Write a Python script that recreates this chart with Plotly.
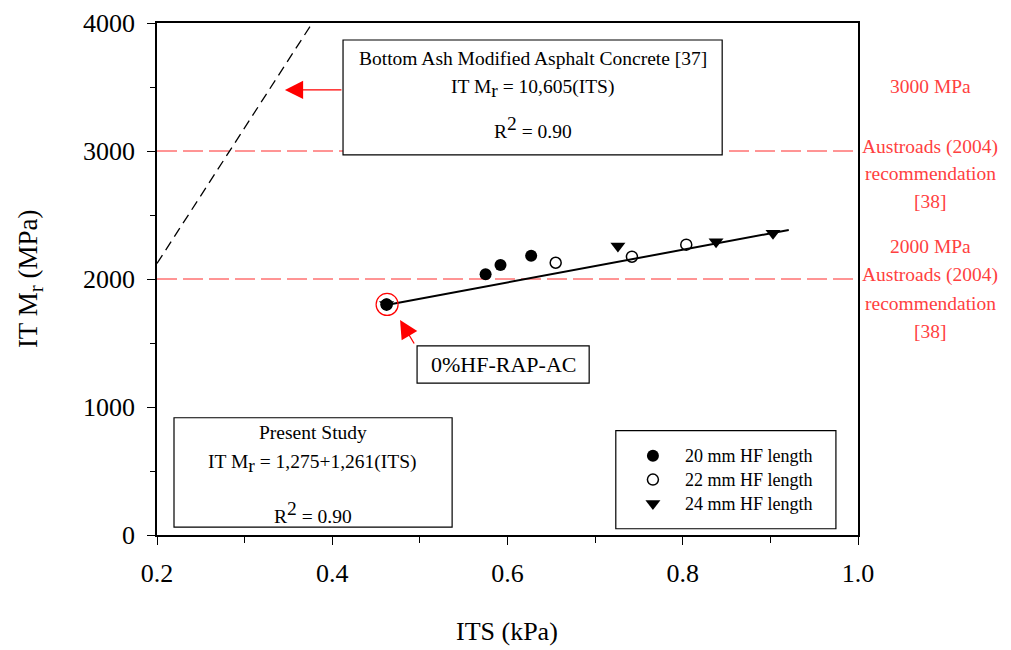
import plotly.graph_objects as go

# --- data ---
HF20_ITS = [0.462, 0.575, 0.592, 0.627]
HF20_MR = [1800, 2037, 2109, 2182]
HF22_ITS = [0.462, 0.655, 0.742, 0.804]
HF22_MR = [1800, 2127, 2174, 2268]
HF24_ITS = [0.462, 0.726, 0.838, 0.903]
HF24_MR = [1800, 2258, 2291, 2357]

FIT_ITS = [0.468, 0.921]          # present study regression line
FIT_MR = [1805, 2383]
BA_ITS = [0.2, 0.3772]            # bottom ash line, 10,605(ITS)
BA_MR = [2121, 4000]
REC_LEVELS = [3000, 2000]         # Austroads recommendations
X_RANGE = [0.2, 1.0]

SERIF = "Liberation Serif, Times New Roman, serif"
REC_RED = "#ff4040"


def big(txt, size):
    # sub/superscripts in the original are nearly full size
    return f"<span style='font-size:{size}px'>{txt}</span>"


fig = go.Figure()

for lvl in REC_LEVELS:
    fig.add_trace(go.Scatter(x=X_RANGE, y=[lvl, lvl], mode="lines",
                             line=dict(color="#ff2a2a", width=1, dash="20px,6px"),
                             showlegend=False, hoverinfo="skip"))

fig.add_trace(go.Scatter(x=BA_ITS, y=BA_MR, mode="lines",
                         line=dict(color="black", width=1.3, dash="10px,6px"),
                         showlegend=False, hoverinfo="skip"))
fig.add_trace(go.Scatter(x=FIT_ITS, y=FIT_MR, mode="lines",
                         line=dict(color="black", width=2),
                         showlegend=False, hoverinfo="skip"))

leg_size = 18
fig.add_trace(go.Scatter(x=HF20_ITS, y=HF20_MR, mode="markers",
                         name=big("20 mm HF length", leg_size),
                         marker=dict(symbol="circle", size=12, color="black")))
fig.add_trace(go.Scatter(x=HF22_ITS, y=HF22_MR, mode="markers",
                         name=big("22 mm HF length", leg_size),
                         marker=dict(symbol="circle-open", size=11, color="black",
                                     line=dict(width=1.5))))
fig.add_trace(go.Scatter(x=HF24_ITS, y=HF24_MR, mode="markers",
                         name=big("24 mm HF length", leg_size),
                         marker=dict(symbol="triangle-down", size=13, color="black")))

shapes = [
    # bottom ash box
    dict(type="rect", x0=0.4123, x1=0.845, y0=2969, y1=3867, layer="above",
         line=dict(color="black", width=1.2), fillcolor="white"),
    # present study box
    dict(type="rect", x0=0.2194, x1=0.5368, y0=62, y1=916, layer="above",
         line=dict(color="black", width=1.2), fillcolor="white"),
    # 0% label box
    dict(type="rect", x0=0.4968, x1=0.6932, y0=1187, y1=1477, layer="above",
         line=dict(color="black", width=1.2), fillcolor="white"),
    # legend box
    dict(type="rect", x0=0.7236, x1=0.9748, y0=49, y1=815, layer="above",
         line=dict(color="black", width=1.2), fillcolor="rgba(0,0,0,0)"),
    # red circle round the control mix
    dict(type="circle", xsizemode="pixel", ysizemode="pixel",
         xanchor=0.4626, yanchor=1801, x0=-11, x1=11, y0=-11, y1=11,
         line=dict(color="red", width=1.2), layer="above"),
]

ann = []
bs = 19.5
box_font = dict(family=SERIF, size=bs, color="black")
ann += [
    dict(x=0.6286, y=3720, text="Bottom Ash Modified Asphalt Concrete [37]", font=box_font),
    dict(x=0.6286, y=3490, text="IT M<sub>" + big("r", bs) + "</sub> = 10,605(ITS)", font=box_font),
    dict(x=0.6286, y=3180, text="R<sup>" + big("2", bs) + "</sup> = 0.90", font=box_font),
    dict(x=0.378, y=800, text="Present Study", font=box_font),
    dict(x=0.378, y=560, text="IT M<sub>" + big("r", bs) + "</sub> = 1,275+1,261(ITS)", font=box_font),
    dict(x=0.378, y=175, text="R<sup>" + big("2", bs) + "</sup> = 0.90", font=box_font),
    dict(x=0.595, y=1330, text="0%HF-RAP-AC", font=dict(family=SERIF, size=22, color="black")),
]
for a in ann:
    a.update(xref="x", yref="y", showarrow=False)

# red arrows
ann += [
    dict(x=0.346, y=3477, xref="x", yref="y", ax=58, ay=0, text="", showarrow=True,
         arrowhead=2, arrowsize=2.8, arrowwidth=1.3, arrowcolor="red"),
    dict(x=0.4774, y=1680, xref="x", yref="y", ax=15, ay=25, text="", showarrow=True,
         arrowhead=2, arrowsize=2.8, arrowwidth=1.3, arrowcolor="red"),
]

# Austroads notes to the right of the plot
red_font = dict(family=SERIF, size=19.5, color=REC_RED)
for txt, ypix in [("3000 MPa", 86), ("Austroads (2004)", 147), ("recommendation", 173), ("[38]", 201),
                  ("2000 MPa", 246), ("Austroads (2004)", 275), ("recommendation", 303), ("[38]", 331)]:
    ann.append(dict(x=(930 - 157) / 701, y=(535 - ypix) / 512, xref="paper", yref="paper",
                    xanchor="center", yanchor="middle",
                    text=txt, showarrow=False, font=red_font))

# axis titles
ann += [
    dict(x=-0.181, y=0.5, xref="paper", yref="paper",
         text="IT M<sub>" + big("r", 21) + "</sub> (MPa)", xanchor="center", yanchor="middle",
         textangle=-90, showarrow=False, font=dict(family=SERIF, size=27, color="black")),
    dict(x=0.4993, y=-0.189, xref="paper", yref="paper", text="ITS (kPa)",
         xanchor="center", yanchor="middle",
         showarrow=False, font=dict(family=SERIF, size=26, color="black")),
]

# the page body adds an 8px offset, so the figure is drawn 8px smaller
fig.update_layout(
    width=1003, height=642,
    margin=dict(l=149, r=153, t=15, b=115, autoexpand=False),
    paper_bgcolor="white", plot_bgcolor="white",
    font=dict(family=SERIF, size=24, color="black"),
    shapes=shapes, annotations=ann,
    showlegend=True,
    legend=dict(x=0.6618, y=0.1877, xanchor="left", yanchor="top",
                bgcolor="rgba(0,0,0,0)", borderwidth=0, itemwidth=54,
                font=dict(family=SERIF, size=16, color="black")),
)
fig.update_xaxes(range=X_RANGE, dtick=0.2, tick0=0.2, tickformat=".1f", automargin=False,
                 showline=True, linecolor="black", linewidth=1.5, mirror=True,
                 ticks="outside", ticklen=8, tickwidth=1.2, tickcolor="black", ticklabelstandoff=6,
                 minor=dict(dtick=0.1, ticks="outside", ticklen=6, tickcolor="black"),
                 showgrid=False, zeroline=False, tickfont=dict(size=26))
fig.update_yaxes(range=[0, 4000], dtick=1000, automargin=False,
                 showline=True, linecolor="black", linewidth=1.5, mirror=True,
                 ticks="outside", ticklen=8, tickwidth=1.2, tickcolor="black", ticklabelstandoff=7,
                 minor=dict(dtick=500, ticks="outside", ticklen=5, tickcolor="black"),
                 showgrid=False, zeroline=False, tickfont=dict(size=26))

fig.write_html("out.html")
